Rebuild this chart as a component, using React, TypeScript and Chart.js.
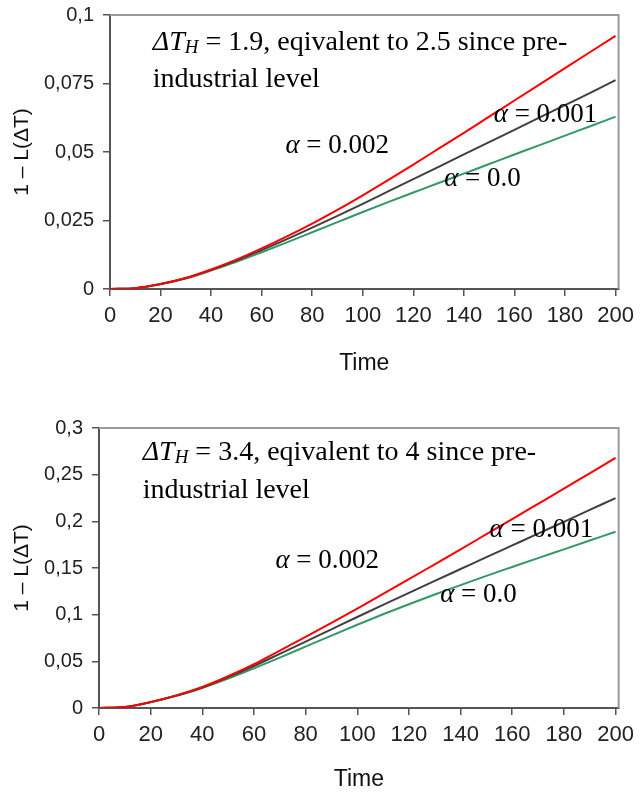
import React, { useEffect, useRef } from "react";
import { Chart, registerables } from "chart.js";

Chart.register(...registerables);

// ---------- data ----------
const TIME = [0, 10, 20, 30, 40, 50, 60, 70, 80, 90, 100, 110, 120, 130, 140, 150, 160, 170, 180, 190, 200];

// top panel (ΔT_H = 1.9)
const TOP_ALPHA_0002 = [0, 0.0003, 0.0018, 0.004, 0.0071, 0.0107, 0.0148, 0.0192, 0.0239, 0.0289, 0.0342, 0.0397, 0.0454, 0.0512, 0.057, 0.0629, 0.0688, 0.0747, 0.0806, 0.0865, 0.0924];
const TOP_ALPHA_0001 = [0, 0.0003, 0.0018, 0.004, 0.007, 0.0104, 0.0142, 0.0182, 0.0224, 0.0267, 0.0311, 0.0356, 0.0401, 0.0446, 0.0491, 0.0536, 0.0581, 0.0626, 0.0671, 0.0716, 0.0762];
const TOP_ALPHA_0 = [0, 0.0003, 0.0017, 0.0038, 0.0067, 0.0099, 0.0134, 0.017, 0.0207, 0.0244, 0.0281, 0.0317, 0.0352, 0.0387, 0.0421, 0.0456, 0.0491, 0.0525, 0.056, 0.0594, 0.0629];

// bottom panel (ΔT_H = 3.4)
const BOT_ALPHA_0002 = [0, 0.001, 0.0064, 0.0135, 0.0225, 0.034, 0.047, 0.0615, 0.0763, 0.0913, 0.1066, 0.1222, 0.138, 0.154, 0.17, 0.1862, 0.2024, 0.2187, 0.235, 0.2515, 0.268];
const BOT_ALPHA_0001 = [0, 0.001, 0.0063, 0.0133, 0.022, 0.033, 0.045, 0.058, 0.0711, 0.0843, 0.0975, 0.1105, 0.1234, 0.1362, 0.1489, 0.1616, 0.1742, 0.1868, 0.1995, 0.2122, 0.2249];
const BOT_ALPHA_0 = [0, 0.001, 0.0062, 0.013, 0.0215, 0.0315, 0.0425, 0.054, 0.0658, 0.0776, 0.0892, 0.1004, 0.1112, 0.1216, 0.1317, 0.1416, 0.1511, 0.1606, 0.17, 0.1794, 0.1888];

const X_TICKS = [0, 20, 40, 60, 80, 100, 120, 140, 160, 180, 200];
const TOP_Y_TICKS = [0, 0.025, 0.05, 0.075, 0.1];
const TOP_Y_LABELS = ["0", "0,025", "0,05", "0,075", "0,1"];
const BOT_Y_TICKS = [0, 0.05, 0.1, 0.15, 0.2, 0.25, 0.3];
const BOT_Y_LABELS = ["0", "0,05", "0,1", "0,15", "0,2", "0,25", "0,3"];

const SERIES_NAMES = ["α = 0.002", "α = 0.001", "α = 0.0"];
const SERIES_COLORS = ["#ff0000", "#404040", "#339966"];

type Seg = { text: string; italic?: boolean; sub?: boolean; size?: number };
type Note = { x: number; y: number; segs: Seg[] };

const TOP_NOTES: Note[] = [
  { x: 16.9, y: 0.0871, segs: [{ text: "ΔT", italic: true, size: 28 }, { text: "H", italic: true, sub: true }, { text: " = 1.9, eqivalent to 2.5 since pre-", size: 28 }] },
  { x: 16.9, y: 0.0736, segs: [{ text: "industrial level", size: 28 }] },
  { x: 69.4, y: 0.0496, segs: [{ text: "α", italic: true }, { text: " = 0.002" }] },
  { x: 151.8, y: 0.0611, segs: [{ text: "α", italic: true }, { text: " = 0.001" }] },
  { x: 132.2, y: 0.0375, segs: [{ text: "α", italic: true }, { text: " = 0.0" }] },
];

const BOT_NOTES: Note[] = [
  { x: 16.9, y: 0.2657, segs: [{ text: "ΔT", italic: true, size: 28 }, { text: "H", italic: true, sub: true }, { text: " = 3.4, eqivalent to 4 since pre-", size: 28 }] },
  { x: 16.9, y: 0.225, segs: [{ text: "industrial level", size: 28 }] },
  { x: 68.3, y: 0.15, segs: [{ text: "α", italic: true }, { text: " = 0.002" }] },
  { x: 151.2, y: 0.1832, segs: [{ text: "α", italic: true }, { text: " = 0.001" }] },
  { x: 132.1, y: 0.1136, segs: [{ text: "α", italic: true }, { text: " = 0.0" }] },
];

const SERIF = '"Liberation Serif", "Times New Roman", serif';
const SANS = '"Liberation Sans", Arial, sans-serif';

function makePlugins(notes: Note[]) {
  return [
    {
      id: "frame",
      afterDraw(chart: any) {
        const { ctx, chartArea } = chart;
        ctx.save();
        ctx.strokeStyle = "#9a9a9a";
        ctx.lineWidth = 2;
        ctx.beginPath();
        ctx.moveTo(chartArea.left, chartArea.top);
        ctx.lineTo(chartArea.right, chartArea.top);
        ctx.lineTo(chartArea.right, chartArea.bottom);
        ctx.stroke();
        ctx.restore();
      },
    },
    {
      id: "notes",
      afterDraw(chart: any) {
        const { ctx } = chart;
        const xs = chart.scales.x;
        const ys = chart.scales.y;
        ctx.save();
        ctx.fillStyle = "#000";
        ctx.textBaseline = "alphabetic";
        ctx.textAlign = "left";
        for (const n of notes) {
          let px = xs.getPixelForValue(n.x);
          const py = ys.getPixelForValue(n.y);
          for (const s of n.segs) {
            const size = s.sub ? 19 : s.size || 27;
            ctx.font = `${s.italic ? "italic " : ""}${size}px ${SERIF}`;
            ctx.fillText(s.text, px, py + (s.sub ? 3 : 0));
            px += ctx.measureText(s.text).width;
          }
        }
        ctx.restore();
      },
    },
  ];
}

function build(
  canvas: HTMLCanvasElement,
  series: number[][],
  yTicks: number[],
  yLabels: string[],
  yMax: number,
  notes: Note[],
  geo: { padTop: number; yWidth: number; xHeight: number; timePad: number; yTitlePad: number }
) {
  return new Chart(canvas, {
    type: "line",
    data: {
      datasets: series.map((vals, i) => ({
        label: SERIES_NAMES[i],
        data: TIME.map((t, k) => ({ x: t, y: vals[k] })),
        borderColor: SERIES_COLORS[i],
        backgroundColor: SERIES_COLORS[i],
        borderWidth: 2,
        pointRadius: 0,
        cubicInterpolationMode: "monotone" as const,
        fill: false,
      })),
    },
    options: {
      animation: false,
      responsive: false,
      devicePixelRatio: 1,
      layout: { padding: { top: geo.padTop, right: 18, left: 0, bottom: 0 } },
      plugins: { legend: { display: false }, tooltip: { enabled: false } },
      scales: {
        x: {
          type: "linear",
          min: 0,
          max: 201.2,
          afterBuildTicks: (s: any) => {
            s.ticks = X_TICKS.map((v) => ({ value: v }));
          },
          afterFit: (s: any) => {
            s.height = geo.xHeight;
          },
          ticks: {
            font: { family: SANS, size: 22 },
            color: "#222",
            padding: 7,
            maxRotation: 0,
            autoSkip: false,
            includeBounds: false,
            callback: (v: any) => String(v),
          },
          grid: { drawOnChartArea: false, drawTicks: true, tickLength: 7, color: "#555", lineWidth: 1.5 },
          border: { display: true, color: "#555", width: 2 },
          title: {
            display: true,
            text: "Time",
            font: { family: SANS, size: 23 },
            color: "#111",
            padding: { top: 0, bottom: geo.timePad },
          },
        },
        y: {
          type: "linear",
          min: 0,
          max: yMax,
          afterBuildTicks: (s: any) => {
            s.ticks = yTicks.map((v) => ({ value: v }));
          },
          afterFit: (s: any) => {
            s.width = geo.yWidth;
          },
          ticks: {
            font: { family: SANS, size: 20 },
            color: "#222",
            padding: 9,
            autoSkip: false,
            callback: (_v: any, idx: number) => yLabels[idx],
          },
          grid: { drawOnChartArea: false, drawTicks: true, tickLength: 7, color: "#555", lineWidth: 1.5 },
          border: { display: true, color: "#555", width: 2 },
          title: {
            display: true,
            text: "1 – L(ΔT)",
            font: { family: SANS, size: 21 },
            color: "#111",
            padding: { top: geo.yTitlePad, bottom: 0 },
          },
        },
      },
    },
    plugins: makePlugins(notes) as any,
  } as any);
}

export default function App() {
  const topRef = useRef<HTMLCanvasElement>(null);
  const botRef = useRef<HTMLCanvasElement>(null);

  useEffect(() => {
    const c1 = build(
      topRef.current!,
      [TOP_ALPHA_0002, TOP_ALPHA_0001, TOP_ALPHA_0],
      TOP_Y_TICKS,
      TOP_Y_LABELS,
      0.1,
      TOP_NOTES,
      { padTop: 15, yWidth: 110, xHeight: 105, timePad: 17, yTitlePad: 10 }
    );
    const c2 = build(
      botRef.current!,
      [BOT_ALPHA_0002, BOT_ALPHA_0001, BOT_ALPHA_0],
      BOT_Y_TICKS,
      BOT_Y_LABELS,
      0.3,
      BOT_NOTES,
      { padTop: 29, yWidth: 99, xHeight: 90, timePad: 5, yTitlePad: 10 }
    );
    return () => {
      c1.destroy();
      c2.destroy();
    };
  }, []);

  return (
    <div style={{ position: "absolute", left: 0, top: 0, width: 641, height: 798, overflow: "hidden", background: "#fff" }}>
      <canvas ref={topRef} width={641} height={400} style={{ position: "absolute", left: 0, top: -6, width: 641, height: 400 }} />
      <canvas ref={botRef} width={641} height={399} style={{ position: "absolute", left: 0, top: 399, width: 641, height: 399 }} />
    </div>
  );
}
